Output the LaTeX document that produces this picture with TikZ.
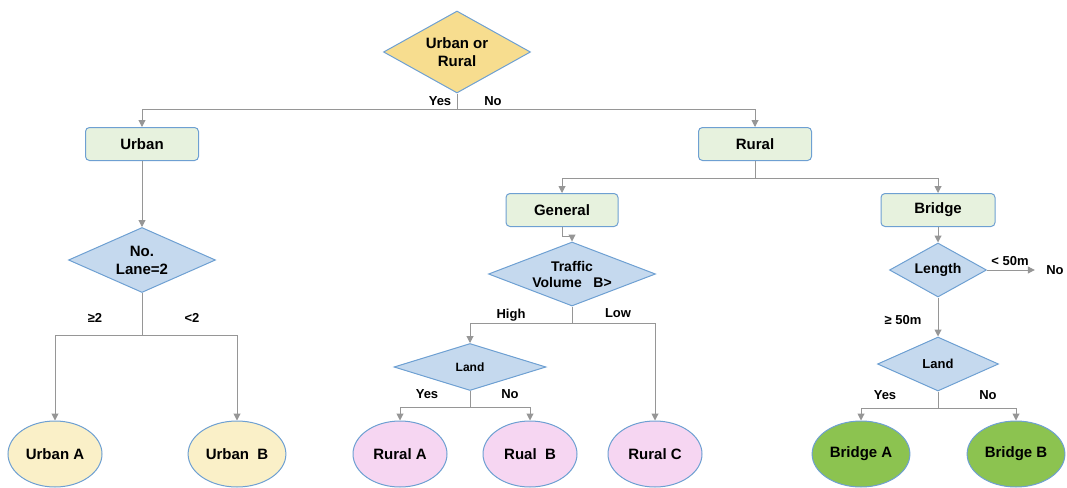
\documentclass[tikz,border=0pt]{standalone}
\usepackage{fontspec}
\setmainfont{Liberation Sans}
\usetikzlibrary{shapes.geometric, arrows.meta}

\definecolor{bordblue}{RGB}{110,160,210}
\definecolor{boxgreen}{RGB}{231,242,222}
\definecolor{diablue}{RGB}{197,217,238}
\definecolor{diayellow}{RGB}{247,221,143}
\definecolor{urbfill}{RGB}{250,240,200}
\definecolor{rurfill}{RGB}{246,214,242}
\definecolor{brifill}{RGB}{140,195,80}
\definecolor{linegray}{RGB}{150,150,150}

\begin{document}
\begin{tikzpicture}[x=1pt, y=-1pt,
  box/.style={draw=bordblue, fill=boxgreen, rounded corners=4pt, line width=1pt,
    minimum width=113pt, minimum height=33pt, font=\bfseries\fontsize{15}{18}\selectfont},
  test/.style={diamond, draw=bordblue, fill=diablue, line width=1pt, inner sep=0pt,
    align=center, font=\bfseries\fontsize{15}{18}\selectfont},
  leaf/.style={ellipse, draw=bordblue, line width=1pt, minimum width=94pt,
    minimum height=66pt, font=\bfseries\fontsize{15}{17}\selectfont},
  lbl/.style={font=\bfseries\fontsize{13}{15}\selectfont},
  link/.style={draw=linegray, line width=1pt},
  arr/.style={link, -{Triangle[length=7pt, width=7pt]}}]

  \useasboundingbox (0,0) rectangle (1067,487);

  % Decision nodes and boxes
  \node[test, fill=diayellow, aspect=1.8, minimum width=147pt, minimum height=82pt] (uor) at (457,52) {Urban or\\Rural};
  \node[box] (urban) at (142,144) {Urban};
  \node[box] (rural) at (755,144) {Rural};
  \node[test, aspect=2.26, minimum width=147pt, minimum height=65pt] (lane) at (142,260) {No.\\Lane=2};
  \node[box, minimum width=112pt] (general) at (562,210) {General};
  \node[box, minimum width=114pt] (bridge) at (938,210) {Bridge};
  \node[test, aspect=2.6, minimum width=167pt, minimum height=64pt, font=\bfseries\fontsize{14}{16}\selectfont] (traffic) at (572,274) {Traffic\\Volume\ \ \ B>};
  \node[test, aspect=3.2, minimum width=152pt, minimum height=47pt, font=\bfseries\fontsize{12}{14}\selectfont] (landr) at (470,367) {Land};
  \node[test, aspect=1.8, minimum width=97pt, minimum height=54pt, font=\bfseries\fontsize{14}{16}\selectfont] (length) at (938,270) {Length};
  \node[test, aspect=2.24, minimum width=121pt, minimum height=54pt, font=\bfseries\fontsize{13}{15}\selectfont] (landb) at (938,364) {Land};
  \node[lbl] (nolen) at (1055,270) {No};

  % Leaves
  \node[leaf, fill=urbfill] (urba) at (55,454) {Urban A};
  \node[leaf, fill=urbfill] (urbb) at (237,454) {Urban\ \ B};
  \node[leaf, fill=rurfill] (rura) at (400,454) {Rural A};
  \node[leaf, fill=rurfill] (rurb) at (530,454) {Rual\ \ B};
  \node[leaf, fill=rurfill] (rurc) at (655,454) {Rural C};
  \node[leaf, fill=brifill] (bria) at (861,454) {Bridge A};
  \node[leaf, fill=brifill] (brib) at (1016,454) {Bridge B};

  % Junctions
  \coordinate (j0) at (457,109);
  \coordinate (ju) at (142,335);
  \coordinate (jr) at (755,178);
  \coordinate (jt) at (572,323);
  \coordinate (jl) at (470,407);
  \coordinate (jb) at (938,408);

  % Connectors
  \draw[link] (uor) -- (j0);
  \draw[arr] (j0) -| (urban);
  \draw[arr] (j0) -| (rural);
  \draw[arr] (urban) -- (lane);
  \draw[link] (lane) -- (ju);
  \draw[arr] (ju) -| (urba);
  \draw[arr] (ju) -| (urbb);
  \draw[link] (rural) -- (jr);
  \draw[arr] (jr) -| (general);
  \draw[arr] (jr) -| (bridge);
  \draw[arr] (general.south) -- ++(0,9) -| (traffic.north);
  \draw[link] (traffic) -- (jt);
  \draw[arr] (jt) -| (landr);
  \draw[arr] (jt) -| (rurc);
  \draw[link] (landr) -- (jl);
  \draw[arr] (jl) -| (rura);
  \draw[arr] (jl) -| (rurb);
  \draw[arr] (bridge) -- (length);
  \draw[arr, shorten >=8pt] (length) -- (nolen);
  \draw[arr] (length) -- (landb);
  \draw[link] (landb) -- (jb);
  \draw[arr] (jb) -| (bria);
  \draw[arr] (jb) -| (brib);

  % Branch labels
  \node[lbl] at (440,101) {Yes};
  \node[lbl] at (493,101) {No};
  \node[lbl] at (95,318) {≥2};
  \node[lbl] at (192,318) {<2};
  \node[lbl] at (511,315) {High};
  \node[lbl] at (618,313) {Low};
  \node[lbl] at (427,394) {Yes};
  \node[lbl] at (510,394) {No};
  \node[lbl] at (1010,261) {< 50m};
  \node[lbl] at (903,320) {≥ 50m};
  \node[lbl] at (885,395) {Yes};
  \node[lbl] at (988,395) {No};

\end{tikzpicture}
\end{document}
